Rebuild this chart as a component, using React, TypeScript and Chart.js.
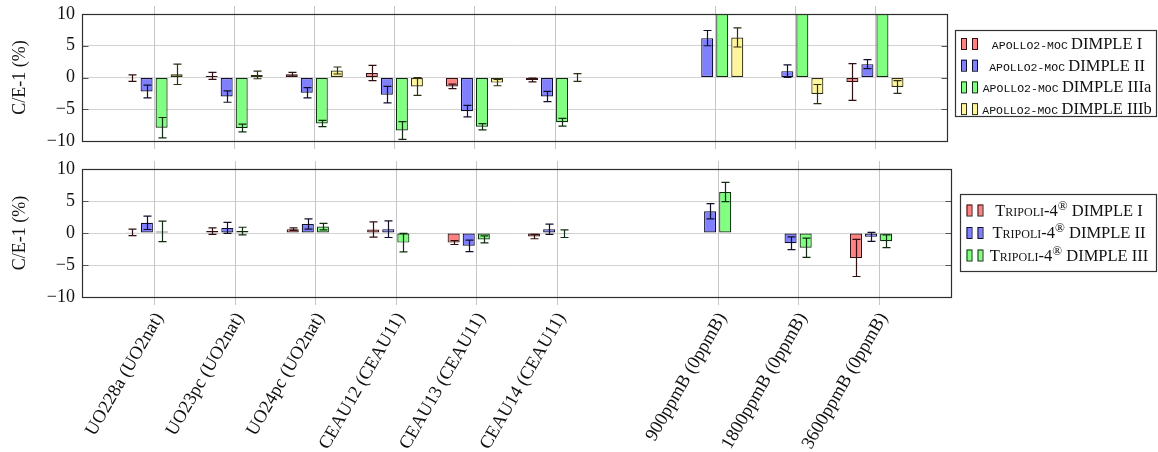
import React, { useEffect, useRef } from 'react';
import { Chart, registerables } from 'chart.js';

Chart.register(...registerables);

// ---------- data ----------
const categories = [
  'UO228a (UO2nat)',
  'UO23pc (UO2nat)',
  'UO24pc (UO2nat)',
  'CEAU12 (CEAU11)',
  'CEAU13 (CEAU11)',
  'CEAU14 (CEAU11)',
  '',
  '900ppmB (0ppmB)',
  '1800ppmB (0ppmB)',
  '3600ppmB (0ppmB)',
];
const categoryTicks = [0, 1, 2, 3, 4, 5, 7, 8, 9];
const yTickValues = [-10, -5, 0, 5, 10];

const apolloNames = ['DIMPLE I', 'DIMPLE II', 'DIMPLE IIIa', 'DIMPLE IIIb'];
const tripoliNames = ['DIMPLE I', 'DIMPLE II', 'DIMPLE III'];

// APOLLO2-MOC (C/E-1 in %)
const apolloI = [-0.1, 0.25, 0.5, 0.7, -1.4, -0.4, null, null, null, -0.7];
const apolloIErr = [0.5, 0.55, 0.3, 1.2, 0.35, 0.3, null, null, null, 2.9];
const apolloII = [-2.2, -3.0, -2.4, -2.7, -5.3, -3.0, null, 6.2, 1.0, 2.1];
const apolloIIErr = [1.0, 0.9, 0.8, 1.3, 0.9, 0.8, null, 1.2, 1.0, 0.7];
const apolloIIIa = [-7.9, -7.95, -7.25, -8.35, -7.75, -7.05, null, 14, 14, 14];
const apolloIIIaErr = [1.6, 0.6, 0.5, 1.4, 0.5, 0.6, null, 1.5, 1.5, 1.5];
const apolloIIIb = [0.5, 0.4, 1.1, -1.4, -0.8, 0.0, null, 6.3, -2.6, -1.5];
const apolloIIIbErr = [1.6, 0.6, 0.55, 1.4, 0.5, 0.6, null, 1.5, 1.5, 1.0];

// TRIPOLI-4 (C/E-1 in %)
const tripoliI = [0.1, 0.3, 0.6, 0.55, -1.5, -0.55, null, null, null, -3.9];
const tripoliIErr = [0.5, 0.5, 0.2, 1.2, 0.3, 0.35, null, null, null, 2.9];
const tripoliII = [1.6, 0.8, 1.4, 0.6, -2.0, 0.6, null, 3.4, -1.6, -0.6];
const tripoliIIErr = [1.05, 0.85, 0.8, 1.3, 0.9, 0.8, null, 1.2, 1.0, 0.7];
const tripoliIII = [0.25, 0.3, 1.0, -1.5, -1.0, -0.1, null, 6.4, -2.3, -1.3];
const tripoliIIIErr = [1.6, 0.6, 0.5, 1.45, 0.55, 0.6, null, 1.5, 1.5, 1.0];

// ---------- styles ----------
const SERIF = '"Liberation Serif", "Times New Roman", serif';
const MONO = '"Liberation Mono", "DejaVu Sans Mono", monospace';
const FILLS = ['#ff8080', '#8080ff', '#80ff80', '#fff59a'];
const EDGES = ['#301010', '#10102e', '#0f2e0f', '#2e2e10'];
const TEXT = '#111111';

function toPoints(values: (number | null)[]) {
  const pts: { x: number; y: number }[] = [];
  values.forEach((v, i) => {
    if (v !== null && v !== undefined) pts.push({ x: i, y: v });
  });
  return pts;
}

function makeDataset(values: (number | null)[], errs: (number | null)[], idx: number, label: string) {
  return {
    label,
    data: toPoints(values),
    errorBars: errs,
    backgroundColor: FILLS[idx],
    borderColor: EDGES[idx],
    borderWidth: 1.2,
    borderSkipped: false,
    categoryPercentage: 0.75,
    barPercentage: 0.8,
  };
}

type LegendPart = { text: string; font: string; dy?: number };
type LegendCfg = {
  x: number; y: number; w: number; h: number;
  rowStart: number; rowStep: number;
  markX: number[]; markW: number; markH: number;
  textCenter: number;
  entries: { parts: LegendPart[]; idx: number }[];
};

function makeDecor(legend: LegendCfg) {
  return {
    id: 'panelDecor',
    beforeDatasetsDraw(chart: any) {
      const { ctx, chartArea: a, scales } = chart;
      const xs = scales.x;
      ctx.save();
      ctx.strokeStyle = '#c6c6c6';
      ctx.lineWidth = 1;
      xs.ticks.forEach((t: any) => {
        const px = Math.round(xs.getPixelForValue(t.value)) + 0.5;
        ctx.beginPath();
        ctx.moveTo(px, a.top - 8);
        ctx.lineTo(px, a.bottom + 8);
        ctx.stroke();
      });
      ctx.restore();
    },
    afterDatasetsDraw(chart: any) {
      const { ctx, chartArea: a, scales } = chart;
      const ys = scales.y;
      // error bars
      ctx.save();
      ctx.beginPath();
      ctx.rect(a.left, a.top, a.right - a.left, a.bottom - a.top);
      ctx.clip();
      chart.data.datasets.forEach((ds: any, di: number) => {
        const errs = ds.errorBars;
        if (!errs) return;
        const meta = chart.getDatasetMeta(di);
        meta.data.forEach((bar: any, j: number) => {
          const pt = ds.data[j];
          const e = errs[pt.x];
          if (e === null || e === undefined) return;
          const yt = ys.getPixelForValue(pt.y + e);
          const yb = ys.getPixelForValue(pt.y - e);
          const cx = Math.round(bar.x) + 0.5;
          ctx.strokeStyle = ds.borderColor;
          ctx.lineWidth = 1.2;
          ctx.beginPath();
          ctx.moveTo(cx, yt);
          ctx.lineTo(cx, yb);
          ctx.moveTo(cx - 4, yt);
          ctx.lineTo(cx + 4, yt);
          ctx.moveTo(cx - 4, yb);
          ctx.lineTo(cx + 4, yb);
          ctx.stroke();
        });
      });
      ctx.restore();

      // frame + inner y ticks
      ctx.save();
      const l = Math.round(a.left) + 0.5;
      const r = Math.round(a.right) + 0.5;
      const t = Math.round(a.top) + 0.5;
      const b = Math.round(a.bottom) + 0.5;
      ctx.strokeStyle = '#555';
      ctx.lineWidth = 1;
      ys.ticks.forEach((tk: any) => {
        if (tk.value <= -10 || tk.value >= 10) return;
        const py = Math.round(ys.getPixelForValue(tk.value)) + 0.5;
        ctx.beginPath();
        ctx.moveTo(l, py);
        ctx.lineTo(l + 6, py);
        ctx.moveTo(r - 6, py);
        ctx.lineTo(r, py);
        ctx.stroke();
      });
      ctx.strokeStyle = '#2e2e2e';
      ctx.lineWidth = 1.2;
      ctx.strokeRect(l, t, r - l, b - t);
      ctx.restore();
    },
    afterDraw(chart: any) {
      const ctx = chart.ctx;
      const L = legend;
      ctx.save();
      ctx.fillStyle = '#fff';
      ctx.fillRect(L.x, L.y, L.w, L.h);
      ctx.strokeStyle = '#333';
      ctx.lineWidth = 1.2;
      ctx.strokeRect(L.x + 0.5, L.y + 0.5, L.w, L.h);
      L.entries.forEach((en, i) => {
        const cy = L.rowStart + i * L.rowStep;
        L.markX.forEach((mx) => {
          ctx.fillStyle = FILLS[en.idx];
          ctx.fillRect(mx, cy - L.markH / 2, L.markW, L.markH);
          ctx.strokeStyle = EDGES[en.idx];
          ctx.lineWidth = 1;
          ctx.strokeRect(mx + 0.5, cy - L.markH / 2 + 0.5, L.markW, L.markH);
        });
        const widths = en.parts.map((p) => {
          ctx.font = p.font;
          return ctx.measureText(p.text).width;
        });
        const total = widths.reduce((s, w) => s + w, 0);
        let tx = L.textCenter - total / 2;
        ctx.fillStyle = TEXT;
        ctx.textBaseline = 'alphabetic';
        ctx.textAlign = 'left';
        en.parts.forEach((p, k) => {
          ctx.font = p.font;
          ctx.fillText(p.text, tx, cy + 5.5 + (p.dy || 0));
          tx += widths[k];
        });
      });
      ctx.restore();
    },
  };
}

function buildConfig(datasets: any[], showX: boolean, axisHeight: number, padTop: number, padRight: number, legend: LegendCfg) {
  return {
    type: 'bar' as const,
    data: { datasets },
    options: {
      animation: false,
      responsive: false,
      devicePixelRatio: 1,
      layout: { padding: { left: 0, top: padTop, right: padRight, bottom: 0 } },
      plugins: { legend: { display: false }, tooltip: { enabled: false } },
      scales: {
        x: {
          type: 'linear',
          min: -0.9,
          max: 9.9,
          bounds: 'data',
          offset: false,
          grid: { display: false, drawTicks: false, offset: false },
          border: { display: false },
          afterBuildTicks: (s: any) => {
            s.ticks = categoryTicks.map((v) => ({ value: v }));
          },
          afterFit: (s: any) => {
            s.height = axisHeight;
            s.paddingLeft = 0;
            s.paddingRight = 0;
          },
          ticks: {
            display: showX,
            autoSkip: false,
            minRotation: 60,
            maxRotation: 60,
            padding: 12,
            labelOffset: 5,
            color: TEXT,
            font: { family: SERIF, size: 18.5 },
            callback: (v: any) => categories[v] ?? '',
          },
        },
        y: {
          min: -10,
          max: 10,
          afterBuildTicks: (s: any) => {
            s.ticks = yTickValues.map((v) => ({ value: v }));
          },
          afterFit: (s: any) => {
            s.width = 82;
            s.paddingTop = 0;
            s.paddingBottom = 0;
          },
          grid: { color: '#d2d2d2', drawTicks: false, lineWidth: 1 },
          border: { display: false },
          ticks: {
            padding: 7,
            color: TEXT,
            font: { family: SERIF, size: 18 },
            callback: (v: any) => (v < 0 ? '\u2212' + Math.abs(v) : String(v)),
          },
          title: {
            display: true,
            text: 'C/E-1 (%)',
            color: TEXT,
            font: { family: SERIF, size: 18 },
            padding: { top: 9, bottom: 0 },
          },
        },
      },
    },
    plugins: [makeDecor(legend)],
  };
}

const LEG_FONT = `16.5px ${SERIF}`;

const topLegend: LegendCfg = {
  x: 955, y: 30, w: 201, h: 86,
  rowStart: 43.5, rowStep: 21.7,
  markX: [961, 972], markW: 5, markH: 11,
  textCenter: 1067,
  entries: apolloNames.map((n, i) => ({
    idx: i,
    parts: [
      { text: 'APOLLO2-MOC', font: `11.5px ${MONO}` },
      { text: '\u2009' + n, font: LEG_FONT },
    ],
  })),
};

const bottomLegend: LegendCfg = {
  x: 960, y: 42, w: 196, h: 77,
  rowStart: 58, rowStep: 22.5,
  markX: [966.5, 977.5], markW: 5, markH: 11,
  textCenter: 1069,
  entries: tripoliNames.map((n, i) => ({
    idx: i,
    parts: [
      { text: 'Tripoli-4', font: `small-caps 16.5px ${SERIF}` },
      { text: '\u00AE', font: `13px ${SERIF}`, dy: -6 },
      { text: ' ' + n, font: LEG_FONT },
    ],
  })),
};

export default function App() {
  const topRef = useRef<HTMLCanvasElement>(null);
  const botRef = useRef<HTMLCanvasElement>(null);

  useEffect(() => {
    const topSets = [
      makeDataset(apolloI, apolloIErr, 0, 'APOLLO2-MOC ' + apolloNames[0]),
      makeDataset(apolloII, apolloIIErr, 1, 'APOLLO2-MOC ' + apolloNames[1]),
      makeDataset(apolloIIIa, apolloIIIaErr, 2, 'APOLLO2-MOC ' + apolloNames[2]),
      makeDataset(apolloIIIb, apolloIIIbErr, 3, 'APOLLO2-MOC ' + apolloNames[3]),
    ];
    const botSets = [
      makeDataset(tripoliI, tripoliIErr, 0, 'Tripoli-4 ' + tripoliNames[0]),
      makeDataset(tripoliII, tripoliIIErr, 1, 'Tripoli-4 ' + tripoliNames[1]),
      makeDataset(tripoliIII, tripoliIIIErr, 2, 'Tripoli-4 ' + tripoliNames[2]),
      // empty fourth slot keeps the same bar positions as the upper panel
      { label: '', data: [], backgroundColor: 'transparent', borderWidth: 0, categoryPercentage: 0.75, barPercentage: 0.8 },
    ];
    const c1 = new Chart(topRef.current as HTMLCanvasElement, buildConfig(topSets, false, 11, 14, 1158 - 947, topLegend) as any);
    const c2 = new Chart(botRef.current as HTMLCanvasElement, buildConfig(botSets, true, 155, 17, 1158 - 951, bottomLegend) as any);
    return () => {
      c1.destroy();
      c2.destroy();
    };
  }, []);

  return (
    <div style={{ position: 'fixed', left: 0, top: 0, width: 1158, height: 452, background: '#fff', overflow: 'hidden' }}>
      <canvas ref={topRef} width={1158} height={152} style={{ position: 'absolute', left: 0, top: 0, width: 1158, height: 152 }} />
      <canvas ref={botRef} width={1158} height={300} style={{ position: 'absolute', left: 0, top: 152, width: 1158, height: 300 }} />
    </div>
  );
}
